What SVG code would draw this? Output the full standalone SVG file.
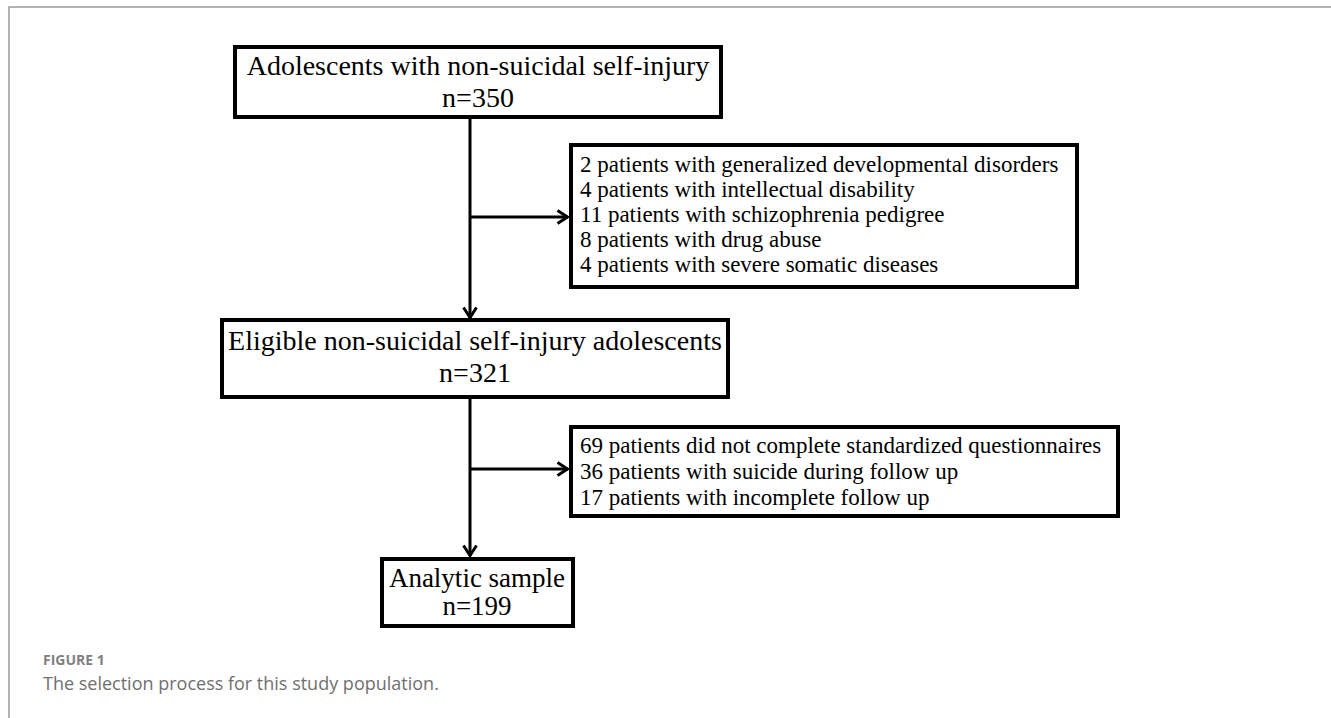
<svg xmlns="http://www.w3.org/2000/svg" width="1331" height="718" viewBox="0 0 1331 718">
<style>
.box{fill:#fff;stroke:#000;stroke-width:4}
.t{font-family:"Liberation Serif","Times New Roman",serif;fill:#000}
.big{font-size:28px}
.mid{font-size:27px}
.sm{font-size:23px}
.con{stroke:#000;stroke-width:3;fill:none}
.frame{stroke:#9a9a9a;stroke-width:1.5;fill:none}
.cap{font-family:"Open Sans","Noto Sans",sans-serif}
</style>
<defs>
<marker id="arr" viewBox="0 0 13 16" refX="12" refY="8" markerWidth="13" markerHeight="16" markerUnits="userSpaceOnUse" orient="auto">
<path d="M1.5,1.5 L11.5,8 L1.5,14.5" fill="none" stroke="#000" stroke-width="3"/>
</marker>
</defs>
<rect width="1331" height="718" fill="#fff"/>
<path class="frame" d="M9,718 L9,7 L1331,7"/>
<g id="connectors">
<line class="con" x1="470" y1="118" x2="470" y2="318" marker-end="url(#arr)"/>
<line class="con" x1="470" y1="217" x2="568" y2="217" marker-end="url(#arr)"/>
<line class="con" x1="470" y1="398" x2="470" y2="556" marker-end="url(#arr)"/>
<line class="con" x1="470" y1="469" x2="568" y2="469" marker-end="url(#arr)"/>
</g>
<g id="n1">
<rect class="box" x="235" y="47" width="486" height="70"/>
<text class="t big" x="478" y="75" text-anchor="middle">Adolescents with non-suicidal self-injury</text>
<text class="t big" x="478" y="107" text-anchor="middle">n=350</text>
</g>
<g id="n2">
<rect class="box" x="571" y="145" width="506" height="142"/>
<text class="t sm" x="580" y="172">2 patients with generalized developmental disorders</text>
<text class="t sm" x="580" y="197">4 patients with intellectual disability</text>
<text class="t sm" x="580" y="222">11 patients with schizophrenia pedigree</text>
<text class="t sm" x="580" y="247">8 patients with drug abuse</text>
<text class="t sm" x="580" y="272">4 patients with severe somatic diseases</text>
</g>
<g id="n3">
<rect class="box" x="222" y="320" width="506" height="77"/>
<text class="t big" x="475" y="350" text-anchor="middle">Eligible non-suicidal self-injury adolescents</text>
<text class="t big" x="475" y="382" text-anchor="middle">n=321</text>
</g>
<g id="n4">
<rect class="box" x="571" y="427" width="547" height="89"/>
<text class="t sm" x="580" y="453">69 patients did not complete standardized questionnaires</text>
<text class="t sm" x="580" y="479">36 patients with suicide during follow up</text>
<text class="t sm" x="580" y="505">17 patients with incomplete follow up</text>
</g>
<g id="n5">
<rect class="box" x="382" y="559" width="191" height="67"/>
<text class="t mid" x="477" y="587" text-anchor="middle">Analytic sample</text>
<text class="t mid" x="477" y="615" text-anchor="middle">n=199</text>
</g>
<g id="caption">
<text class="cap" x="43" y="665" font-size="14" font-weight="bold" fill="#808080">FIGURE 1</text>
<text class="cap" x="43" y="690" font-size="18" fill="#707070">The selection process for this study population.</text>
</g>
</svg>
